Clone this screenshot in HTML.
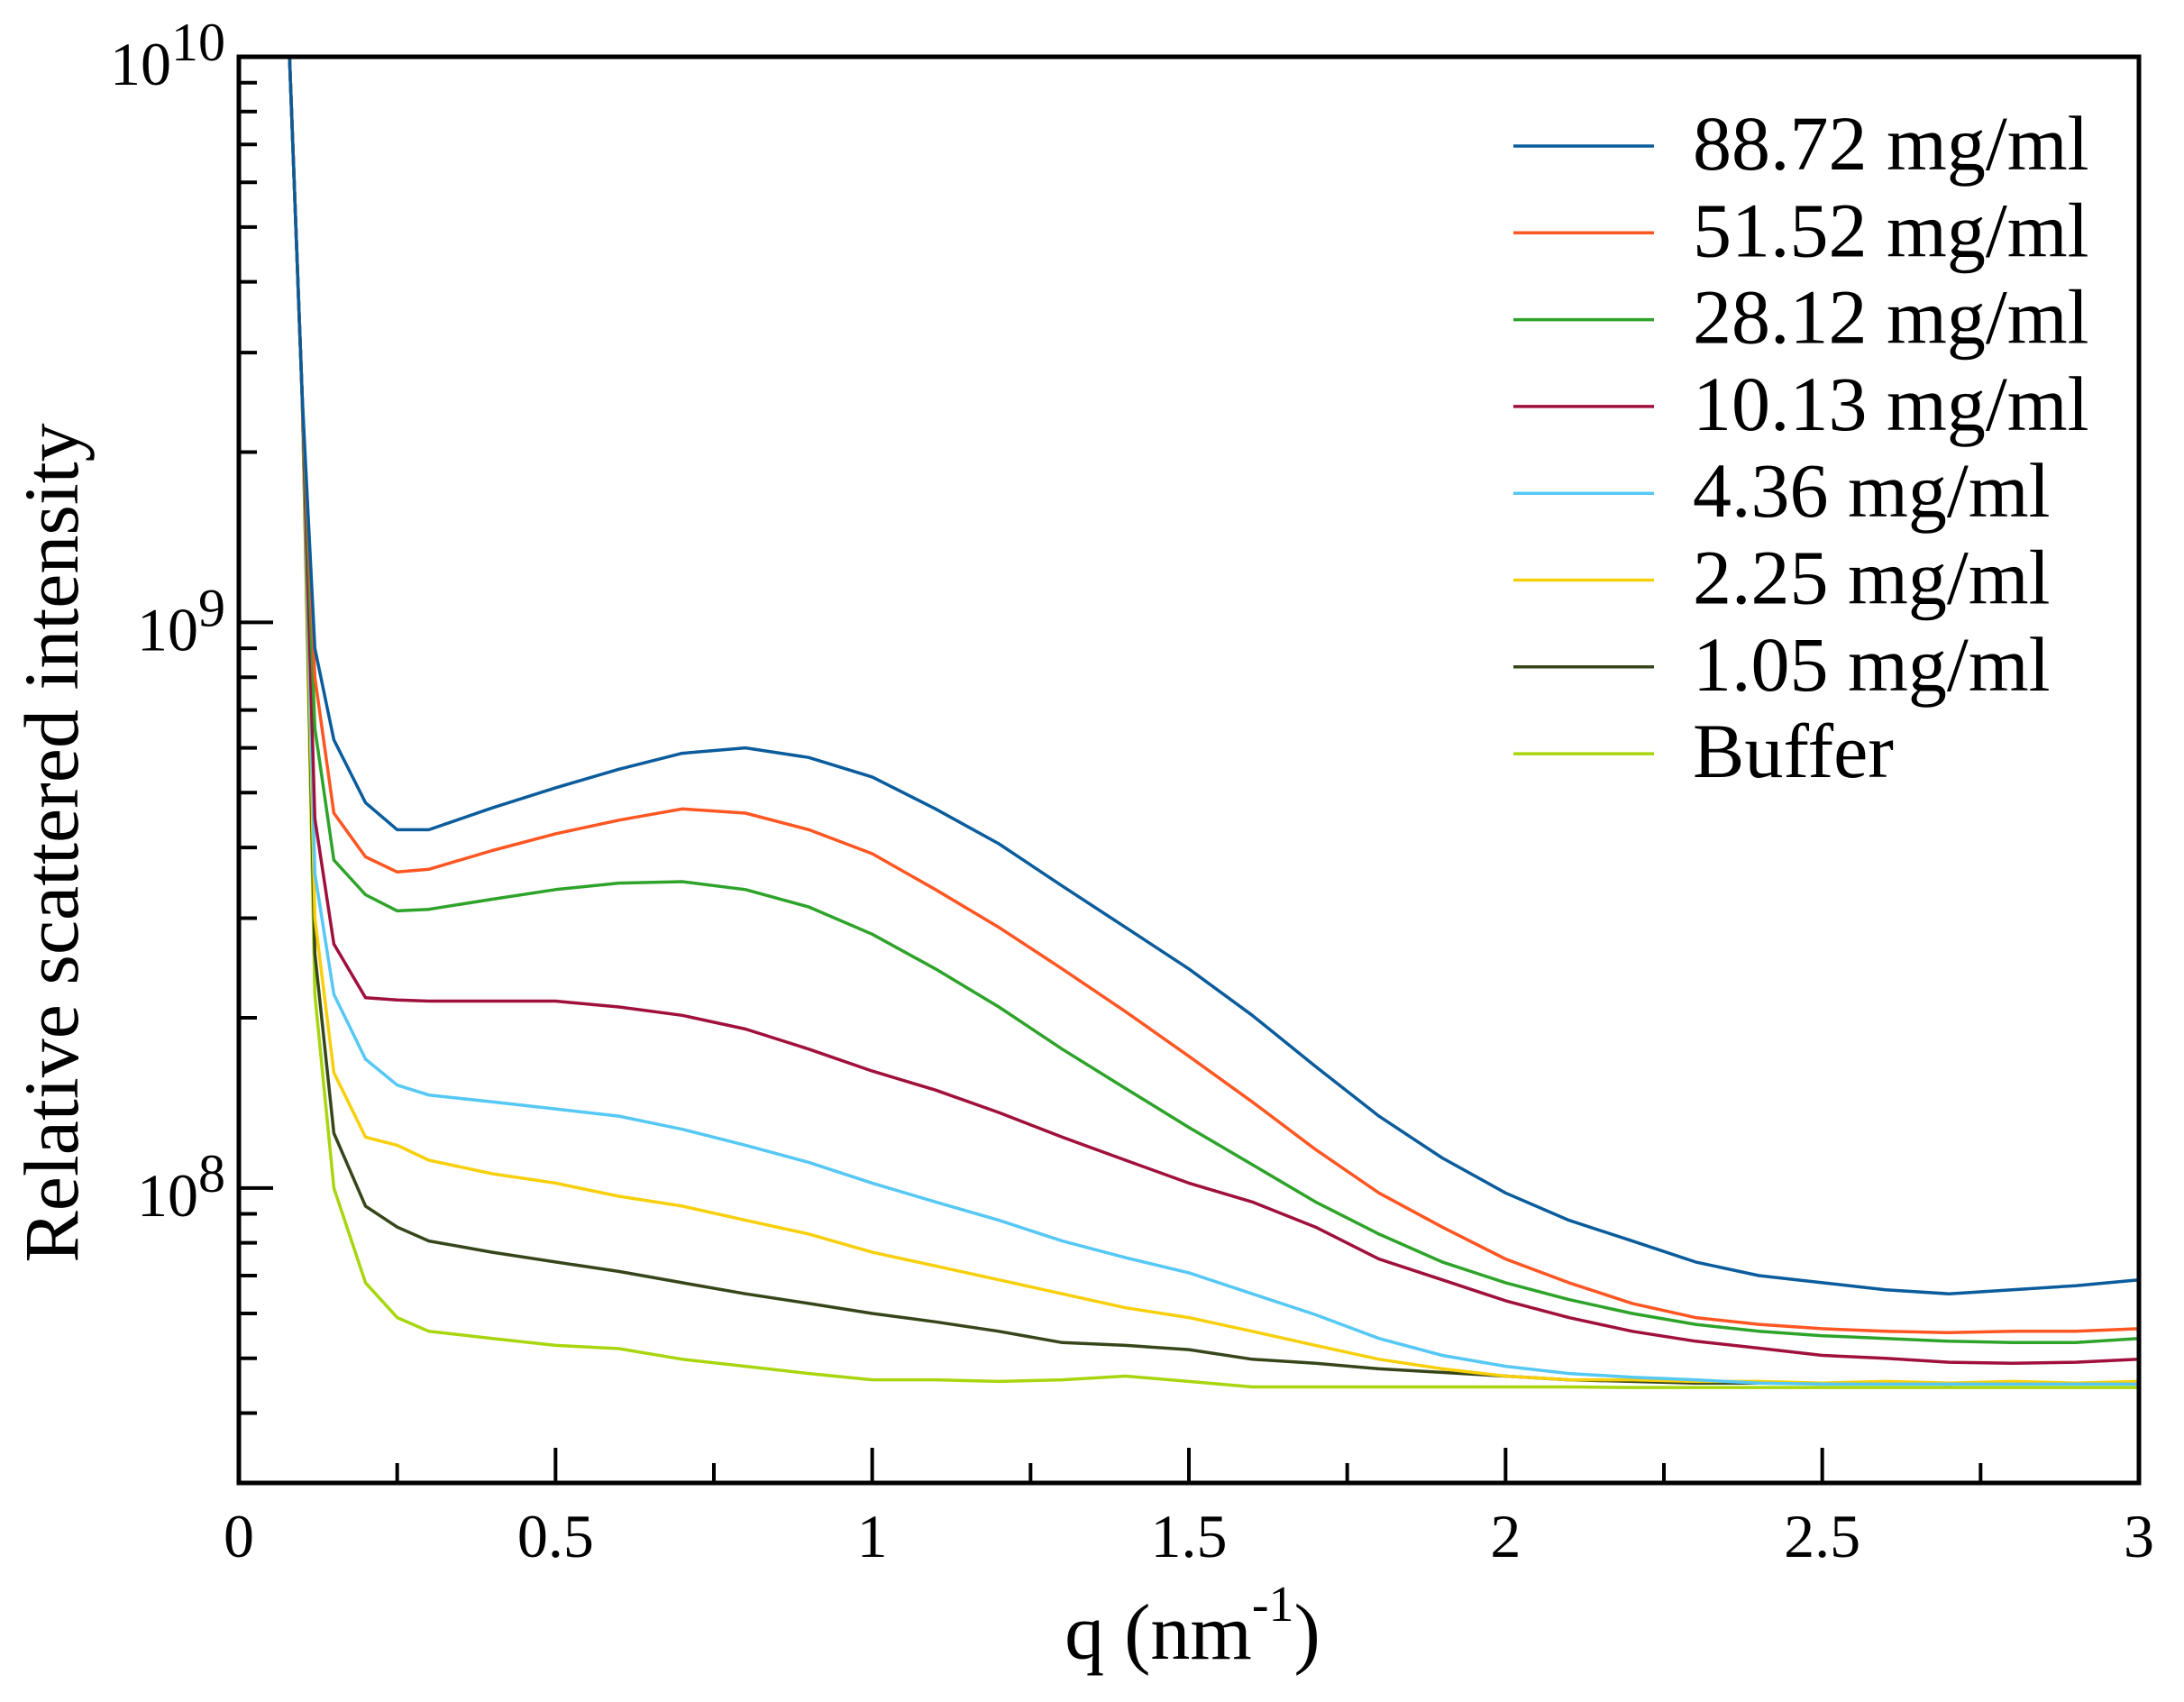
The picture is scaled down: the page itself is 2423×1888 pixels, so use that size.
<!DOCTYPE html>
<html><head><meta charset="utf-8"><style>
html,body{margin:0;padding:0;background:#fff;}
svg{display:block;}
svg text{font-family:"Liberation Serif","DejaVu Serif",serif;}
</style></head><body>
<svg id="chart" width="2423" height="1888" viewBox="0 0 2423 1888" xmlns="http://www.w3.org/2000/svg" font-family="Liberation Serif, serif">
<g id="series-layer"></g>
<g id="axes-layer"></g>
<text transform="translate(86,935) rotate(-90)" text-anchor="middle" font-size="86" font-family="Liberation Serif, serif">Relative scattered intensity</text>
<text x="1323" y="1840" text-anchor="middle" font-size="88" font-family="Liberation Serif, serif">q (nm<tspan font-size="56" dy="-42">-1</tspan><tspan dy="42">)</tspan></text>
<g id="legend"></g>
</svg>
<script>
const qValues = [0.08,0.1,0.12,0.15,0.2,0.25,0.3,0.4,0.5,0.6,0.7,0.8,0.9,1.0,1.1,1.2,1.3,1.4,1.5,1.6,1.7,1.8,1.9,2.0,2.1,2.2,2.3,2.4,2.5,2.6,2.7,2.8,2.9,3.0];
// intensities in units of 1e8
const s8872 = [100,25,9,6.2,4.8,4.3,4.3,4.7,5.1,5.5,5.87,6.0,5.77,5.33,4.68,4.06,3.42,2.89,2.44,2.02,1.64,1.34,1.13,0.98,0.877,0.806,0.74,0.70,0.68,0.661,0.65,0.661,0.672,0.688];
const s5152 = [100,25,8,4.6,3.85,3.62,3.66,3.95,4.23,4.47,4.68,4.60,4.30,3.90,3.37,2.89,2.44,2.05,1.71,1.42,1.17,0.98,0.853,0.749,0.68,0.625,0.59,0.574,0.564,0.558,0.555,0.558,0.558,0.564];
const s2812 = [100,25,6.5,3.8,3.3,3.09,3.11,3.24,3.37,3.46,3.48,3.37,3.14,2.81,2.44,2.09,1.76,1.50,1.28,1.10,0.945,0.829,0.74,0.68,0.635,0.60,0.574,0.558,0.548,0.542,0.536,0.533,0.533,0.542];
const s1013 = [100,25,4.5,2.7,2.17,2.15,2.14,2.14,2.14,2.09,2.02,1.91,1.76,1.61,1.49,1.36,1.23,1.12,1.02,0.945,0.853,0.749,0.688,0.632,0.59,0.558,0.536,0.521,0.506,0.50,0.492,0.49,0.492,0.498];
const s436 = [100,25,3.6,2.2,1.69,1.52,1.46,1.42,1.38,1.34,1.27,1.19,1.11,1.02,0.945,0.877,0.806,0.753,0.708,0.65,0.597,0.542,0.506,0.484,0.47,0.463,0.458,0.452,0.45,0.45,0.45,0.45,0.45,0.45];
const s225 = [100,25,3.0,1.6,1.23,1.19,1.12,1.06,1.02,0.967,0.929,0.877,0.829,0.77,0.728,0.688,0.65,0.614,0.59,0.558,0.527,0.498,0.479,0.465,0.458,0.458,0.455,0.455,0.452,0.455,0.452,0.455,0.452,0.455];
const s105 = [100,25,2.6,1.25,0.929,0.853,0.806,0.77,0.74,0.712,0.68,0.65,0.625,0.60,0.58,0.558,0.533,0.527,0.518,0.498,0.49,0.479,0.472,0.465,0.458,0.455,0.452,0.452,0.452,0.452,0.45,0.452,0.452,0.452];
const sBuffer = [100,25,2.2,1.0,0.68,0.59,0.558,0.542,0.527,0.52,0.498,0.484,0.47,0.458,0.458,0.455,0.458,0.465,0.455,0.445,0.445,0.445,0.445,0.445,0.445,0.444,0.444,0.444,0.444,0.444,0.444,0.444,0.444,0.444];
const seriesLabels = ["88.72 mg/ml","51.52 mg/ml","28.12 mg/ml","10.13 mg/ml","4.36 mg/ml","2.25 mg/ml","1.05 mg/ml","Buffer"];
const seriesColors = ["#0a5c9c","#ff5622","#2ea32a","#a0103c","#55c8f5","#f7cf0a","#36461a","#a8d60e"];
const xTickLabels = ["0","0.5","1","1.5","2","2.5","3"];
const yDecades = [8,9,10];

const allSeries = [s8872,s5152,s2812,s1013,s436,s225,s105,sBuffer];
const NS = "http://www.w3.org/2000/svg";
const L=265, R=2373, T=63, B=1645;
const xMin=0, xMax=3, yTop=10, yBot=Math.log10(3.01e7);
function xs(q){return L+(q-xMin)/(xMax-xMin)*(R-L);}
function ys(v){return T+(yTop-Math.log10(v))/(yTop-yBot)*(B-T);}
function mk(tag,attrs,parent){const e=document.createElementNS(NS,tag);for(const k in attrs)e.setAttribute(k,attrs[k]);parent.appendChild(e);return e;}

const sl=document.getElementById('series-layer');
const clip=mk('clipPath',{id:'pc'},document.getElementById('chart'));
mk('rect',{x:L,y:T,width:R-L,height:B-T},clip);
sl.setAttribute('clip-path','url(#pc)');
for(let i=allSeries.length-1;i>=0;i--){
  const d=allSeries[i].map((v,j)=>(j?'L':'M')+xs(qValues[j]).toFixed(1)+','+ys(v*1e8).toFixed(1)).join(' ');
  const p=mk('path',{d:d,fill:'none',stroke:seriesColors[i],'stroke-width':3.5,'stroke-linejoin':'round'},sl);
  
  
}

const ax=document.getElementById('axes-layer');
const frame=mk('rect',{x:L,y:T,width:R-L,height:B-T,fill:'none',stroke:'#000','stroke-width':5},ax);


for(let i=0;i<=12;i++){
  const q=i*0.25, x=xs(q), len=(i%2===0)?39:22;
  const t=mk('line',{x1:x,y1:B,x2:x,y2:B-len,stroke:'#000','stroke-width':4},ax);
  
  
}
xTickLabels.forEach((lab,i)=>{
  const t=mk('text',{x:xs(i*0.5),y:1727,'text-anchor':'middle','font-size':68,'font-family':'Liberation Serif, serif'},ax);
  t.textContent=lab;
  
  
});
for(let e=7;e<=9;e++){
  for(let m=1;m<=9;m++){
    const v=m*Math.pow(10,e);
    if(v<3.01e7||v>1e10)continue;
    const y=ys(v), len=(m===1)?38:20;
    const t=mk('line',{x1:L,y1:y,x2:L+len,y2:y,stroke:'#000','stroke-width':4},ax);
    
    
  }
}
yDecades.forEach(d=>{
  const y=ys(Math.pow(10,d));
  const t=mk('text',{x:250,y:y+31,'text-anchor':'end','font-size':68,'font-family':'Liberation Serif, serif'},ax);
  
  
  const a=mk('tspan',{},t); a.textContent='10';
  const b=mk('tspan',{dy:-27,'font-size':60},t); b.textContent=String(d);
});
const lg=document.getElementById('legend');
seriesLabels.forEach((lab,i)=>{
  const y=162+i*96.3;
  const ln=mk('line',{x1:1679,y1:y,x2:1835,y2:y,stroke:seriesColors[i],'stroke-width':3.5},lg);
  
  
  const t=mk('text',{x:1878,y:y+26,'font-size':86,'font-family':'Liberation Serif, serif'},lg);
  t.textContent=lab;
  
  
});
</script>
</body></html>
